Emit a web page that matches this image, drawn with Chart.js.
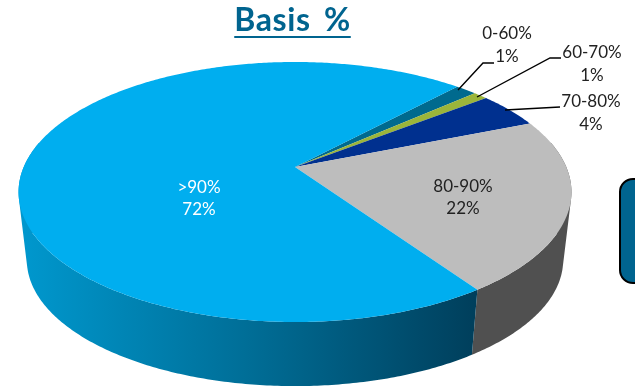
<!DOCTYPE html>
<html>
<head>
<meta charset="utf-8">
<style>html,body{margin:0;padding:0;background:#fff}canvas{display:block}</style>
<script src="https://cdn.jsdelivr.net/npm/chart.js@4"></script>
</head>
<body>
<canvas id="c" width="635" height="387"></canvas>
<script>
const categories = ['0-60%', '60-70%', '70-80%', '80-90%', '>90%'];
const shares = [1.49, 1.0, 4.49, 21.5, 71.5];
const topColors = ['#006A8E', '#9BB53A', '#00308F', '#BDBDBD', '#00AEEF'];
const FONT = 'Lato, Carlito, sans-serif';

// Tilted-disc projection of the library's arc geometry
const view = {cx: 295, cy: 167, A: 271.3, B: 125.2, p: 0.1923, shrink: 0.97, midY: 192, bottomMidY: 260};
function topPoint(a, r) {
  const u = Math.cos(a) * r, v = Math.sin(a) * r, d = 1 - view.p * v;
  return [view.cx + view.A * u / d, view.cy + view.B * v / d];
}
function bottomPoint(a) {
  const t = topPoint(a, 1);
  return [view.cx + (t[0] - view.cx) * view.shrink, view.bottomMidY + (t[1] - view.midY) * view.shrink];
}
const Arc = Chart.registry.getElement('arc');
Arc.prototype.draw = function (ctx) {
  ctx.save();
  ctx.fillStyle = this.options.backgroundColor;
  ctx.beginPath();
  ctx.moveTo(view.cx, view.cy);
  const n = Math.max(8, Math.ceil((this.endAngle - this.startAngle) * 90));
  for (let i = 0; i <= n; i++) {
    const p = topPoint(this.startAngle + (this.endAngle - this.startAngle) * i / n, 1);
    ctx.lineTo(p[0], p[1]);
  }
  ctx.closePath();
  ctx.fill();
  ctx.restore();
};
function wallStyle(ctx, index) {
  if (index === 3) return '#505050';
  const g = ctx.createLinearGradient(20, 0, 475, 0);
  g.addColorStop(0, '#0098CE');
  g.addColorStop(0.5, '#006E97');
  g.addColorStop(1, '#003F5C');
  return g;
}
const pieWalls = {
  id: 'pieWalls',
  beforeDatasetsDraw(chart) {
    const ctx = chart.ctx;
    chart.getDatasetMeta(0).data.forEach((arc, index) => {
      const n = Math.ceil((arc.endAngle - arc.startAngle) * 90);
      ctx.save();
      ctx.fillStyle = wallStyle(ctx, index);
      ctx.beginPath();
      for (let i = 0; i < n; i++) {
        const a0 = arc.startAngle + (arc.endAngle - arc.startAngle) * i / n;
        const a1 = arc.startAngle + (arc.endAngle - arc.startAngle) * (i + 1) / n;
        if (Math.sin(a0) < -0.2 && Math.sin(a1) < -0.2) continue;
        let p = [topPoint(a0, 1), topPoint(a1, 1), bottomPoint(a1), bottomPoint(a0)];
        let area = 0;
        for (let k = 0; k < 4; k++) {
          const q = p[(k + 1) % 4];
          area += p[k][0] * q[1] - q[0] * p[k][1];
        }
        if (area < 0) p = p.reverse();
        ctx.moveTo(p[0][0], p[0][1]);
        for (let k = 1; k < 4; k++) ctx.lineTo(p[k][0], p[k][1]);
        ctx.closePath();
      }
      ctx.fill('nonzero');
      ctx.restore();
    });
  }
};
const labelSpots = [
  {x: 507, y: 33, dy: 23, color: '#222', line: [[458, 90], [483, 63], [494, 63]]},
  {x: 592, y: 52, dy: 23, color: '#222', line: [[477, 97], [550, 58], [561, 58]]},
  {x: 591, y: 101, dy: 23, color: '#222', line: [[505, 110], [560, 107]]},
  {x: 463, y: 186, dy: 22, color: '#222'},
  {x: 199, y: 187, dy: 22, color: '#fff'}
];
const annotations = {
  id: 'annotations',
  afterDatasetsDraw(chart) {
    const ctx = chart.ctx;
    const total = shares.reduce((a, b) => a + b, 0);
    ctx.save();
    ctx.textAlign = 'center'; ctx.textBaseline = 'middle';
    labelSpots.forEach((s, i) => {
      if (s.line) {
        ctx.strokeStyle = '#000'; ctx.lineWidth = 1.4;
        ctx.beginPath();
        s.line.forEach((p, k) => k ? ctx.lineTo(p[0], p[1]) : ctx.moveTo(p[0], p[1]));
        ctx.stroke();
      }
      ctx.fillStyle = s.color;
      ctx.font = '17px ' + FONT;
      ctx.fillText(categories[i], s.x, s.y + 1);
      ctx.fillText(Math.round(shares[i] / total * 100) + '%', s.x, s.y + s.dy + 1);
    });
    // Title
    ctx.fillStyle = '#00648F';
    ctx.font = 'bold 32px ' + FONT;
    ctx.letterSpacing = '0.6px';
    ctx.wordSpacing = '5px';
    ctx.fillText('Basis %', 292.5, 21);
    const w = ctx.measureText('Basis %').width;
    ctx.letterSpacing = '0px';
    ctx.wordSpacing = '0px';
    ctx.fillRect(292.5 - w / 2, 36, w, 2);
    // Box at right edge
    ctx.fillStyle = '#00648F'; ctx.strokeStyle = '#000'; ctx.lineWidth = 2;
    ctx.beginPath();
    ctx.roundRect(620, 179, 40, 104, 13);
    ctx.fill(); ctx.stroke();
    ctx.restore();
  }
};
new Chart(document.getElementById('c'), {
  type: 'pie',
  data: {labels: categories, datasets: [{data: shares, backgroundColor: topColors, borderWidth: 0}]},
  options: {
    responsive: false,
    animation: false,
    rotation: 43,
    plugins: {legend: {display: false}, tooltip: {enabled: false}, title: {display: false}}
  },
  plugins: [pieWalls, annotations]
});
</script>
</body>
</html>
